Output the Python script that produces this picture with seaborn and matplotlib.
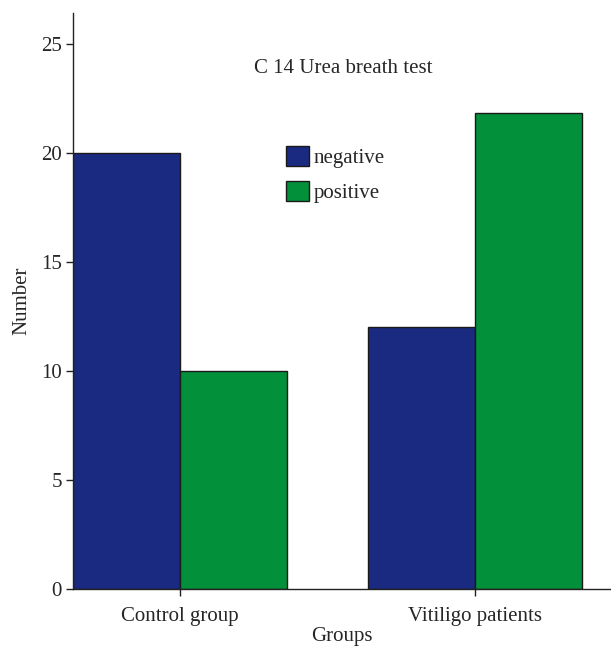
import pandas as pd
import numpy as np
import matplotlib
matplotlib.use('Agg')
import matplotlib.pyplot as plt
import seaborn as sns

groups = ['Control group', 'Vitiligo patients']
results = ['negative', 'positive']
negative = [20, 12]
positive = [10, 21.8]
colors = ['#192a80', '#02903a']

df = pd.DataFrame({
    'Groups': groups * 2,
    'result': ['negative'] * 2 + ['positive'] * 2,
    'Number': negative + positive,
})

sns.set_style('ticks')
plt.rcParams['font.family'] = ['Liberation Serif', 'DejaVu Serif']
fs = 15

fig = plt.figure(figsize=(6.11, 6.48), dpi=100)
ax = fig.add_axes([0.1195, 0.091, 0.8805, 0.889])
sns.barplot(data=df, x='Groups', y='Number', hue='result', hue_order=results,
            palette=colors, width=0.725, edgecolor='#1a1a1a', linewidth=1,
            saturation=1, ax=ax)

ax.set_xlim(-0.3627, 1.461)
ax.set_ylim(0, 26.4)
ax.set_yticks([0, 5, 10, 15, 20, 25])
ax.tick_params(labelsize=fs, length=5, width=1, color='#222222', pad=3)
ax.tick_params(axis='x', pad=8)
ax.set_xlabel('Groups', fontsize=fs, labelpad=1)
ax.set_ylabel('Number', fontsize=fs, labelpad=7)
for s in ['top', 'right']:
    ax.spines[s].set_visible(False)
for s in ['left', 'bottom']:
    ax.spines[s].set_linewidth(1)
    ax.spines[s].set_color('#222222')

ax.text(0.502, 0.903, 'C 14 Urea breath test', transform=ax.transAxes,
        ha='center', va='center', fontsize=fs)
ax.legend(loc='upper left', bbox_to_anchor=(0.396, 0.769), frameon=False,
          fontsize=fs, handlelength=1.12, handleheight=1.12,
          handletextpad=0.2, labelspacing=0.6, borderaxespad=0, borderpad=0)

fig.savefig('out.png', dpi=100)
